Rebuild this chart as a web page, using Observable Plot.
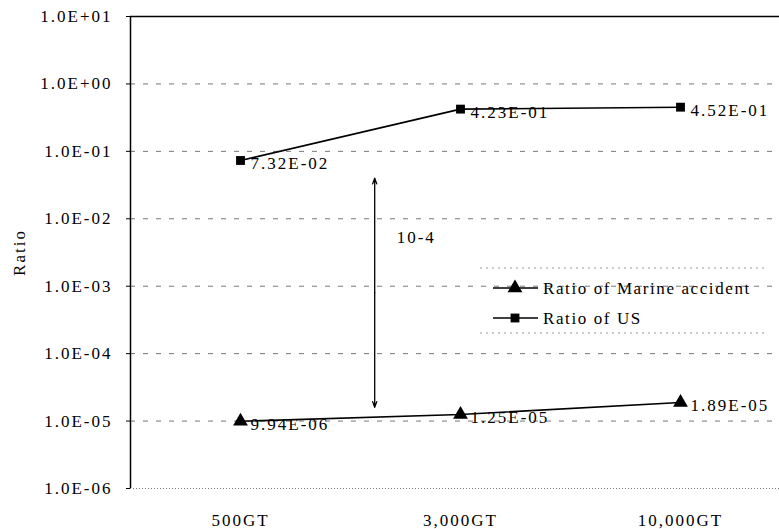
<!DOCTYPE html>
<html>
<head>
<meta charset="utf-8">
<script src="https://cdn.jsdelivr.net/npm/d3@7"></script>
<script src="https://cdn.jsdelivr.net/npm/@observablehq/plot@0.6"></script>
<style>
  html, body { margin: 0; padding: 0; background: #fff; overflow: hidden; }
  #chart { position: relative; width: 779px; height: 529px; }
</style>
</head>
<body>
<div id="chart"></div>
<script>
// ---- data ----
const categories = ["500GT", "3,000GT", "10,000GT"];
const ratioUS = [7.32e-2, 4.23e-1, 4.52e-1];
const ratioMarine = [9.94e-6, 1.25e-5, 1.89e-5];
const yTicks = [1e1, 1e0, 1e-1, 1e-2, 1e-3, 1e-4, 1e-5, 1e-6];
const seriesNames = ["Ratio of Marine accident", "Ratio of US"];
// annotation: double arrow between the two series (position in category-index units)
const annotX = [0.61];
const annotRange = [0.04, 1.6e-5];
const annotLabel = ["10-4"];

const usData = categories.map((c, i) => ({i, c, v: ratioUS[i]}));
const marineData = categories.map((c, i) => ({i, c, v: ratioMarine[i]}));

function sci(v, digits) {
  const [m, e] = v.toExponential(digits).split("e");
  const n = parseInt(e, 10);
  const sign = n < 0 ? "-" : "+";
  return m + "E" + sign + String(Math.abs(n)).padStart(2, "0");
}

const font = {fontFamily: "'Liberation Serif', serif", fontSize: "17px", letterSpacing: "2px", background: "#fff", color: "#000"};
const mid = Math.sqrt(annotRange[0] * annotRange[1]);

const chart = Plot.plot({
  width: 779,
  height: 529,
  marginTop: 16,
  marginBottom: 41,
  marginLeft: 130,
  marginRight: 0,
  style: font,
  x: {type: "linear", domain: [-0.5, 2.45], axis: null},
  y: {type: "log", domain: [1e-6, 10], axis: null},
  marks: [
    // gridlines
    Plot.ruleY(yTicks.slice(1, 7), {stroke: "#777", strokeWidth: 1, strokeDasharray: "5,8"}),
    Plot.ruleY([yTicks[7]], {stroke: "#777", strokeWidth: 1, strokeDasharray: "1,2"}),
    Plot.ruleY([yTicks[0]], {stroke: "#000", strokeWidth: 1.5}),
    Plot.ruleX([-0.5], {stroke: "#000", strokeWidth: 1.5}),
    // axes
    Plot.axisY({ticks: yTicks, tickFormat: d => sci(d, 1), tickSize: 4, tickPadding: 14,
      label: "Ratio", labelAnchor: "center", labelArrow: "none", labelOffset: 118}),
    Plot.axisX({ticks: [0, 1, 2], tickFormat: i => categories[i], tickSize: 0, tickPadding: 25, label: null}),
    // annotation arrow
    Plot.arrow(annotX, {x1: d => d, x2: d => d, y1: () => mid, y2: () => annotRange[0], stroke: "#000", strokeWidth: 1.3, headLength: 7, headAngle: 40}),
    Plot.arrow(annotX, {x1: d => d, x2: d => d, y1: () => mid, y2: () => annotRange[1], stroke: "#000", strokeWidth: 1.3, headLength: 7, headAngle: 40}),
    Plot.text(annotLabel, {x: annotX[0], y: 5.3e-3, text: d => d, textAnchor: "start", dx: 22}),
    // series
    Plot.line(usData, {x: "i", y: "v", stroke: "#000", strokeWidth: 1.6}),
    Plot.dot(usData, {x: "i", y: "v", symbol: "square", r: 5, fill: "#000", stroke: null}),
    Plot.text(usData, {x: "i", y: "v", text: d => sci(d.v, 2), textAnchor: "start", dx: 10, dy: 3}),
    Plot.line(marineData, {x: "i", y: "v", stroke: "#000", strokeWidth: 1.6}),
    Plot.dot(marineData, {x: "i", y: "v", symbol: "triangle", r: 5.5, fill: "#000", stroke: null}),
    Plot.text(marineData, {x: "i", y: "v", text: d => sci(d.v, 2), textAnchor: "start", dx: 10, dy: 3})
  ]
});

document.getElementById("chart").appendChild(chart);

// ---- legend (inside plot area) ----
const svg = d3.select(chart);
const lg = svg.append("g")
  .attr("font-family", "'Liberation Serif', serif")
  .attr("font-size", 17)
  .attr("letter-spacing", "1.6px")
  .attr("text-anchor", "start");
lg.append("line").attr("x1", 480).attr("x2", 768).attr("y1", 268).attr("y2", 268).attr("stroke", "#999").attr("stroke-dasharray", "2,4");
lg.append("line").attr("x1", 480).attr("x2", 768).attr("y1", 333).attr("y2", 333).attr("stroke", "#999").attr("stroke-dasharray", "2,4");
const symbols = [d3.symbolTriangle, d3.symbolSquare];
const sizes = [95, 78];
seriesNames.forEach((name, k) => {
  const y = 288 + k * 30;
  lg.append("line").attr("x1", 493).attr("x2", 538).attr("y1", y).attr("y2", y).attr("stroke", "#000").attr("stroke-width", 1.6);
  lg.append("path").attr("d", d3.symbol(symbols[k], sizes[k])()).attr("transform", `translate(515,${y})`).attr("fill", "#000");
  lg.append("text").attr("x", 543).attr("y", y).attr("dy", "0.35em").attr("text-anchor", "start").text(name);
});
</script>
</body>
</html>
